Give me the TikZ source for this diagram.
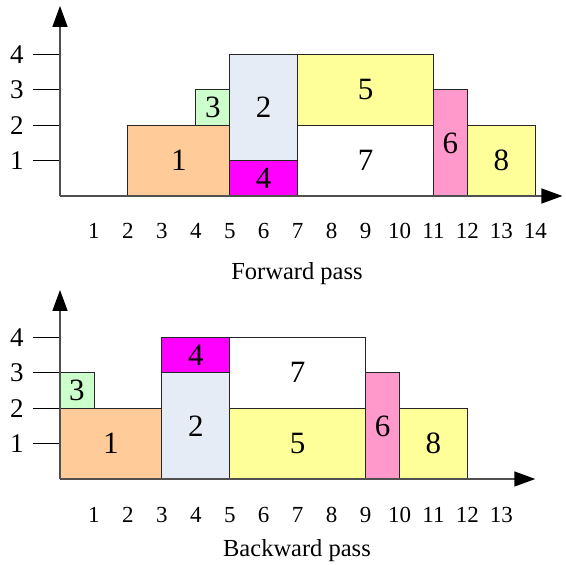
\documentclass[tikz,border=0pt]{standalone}
\usepackage{fontspec}
\setmainfont{Liberation Serif}
\usetikzlibrary{arrows.meta}

\definecolor{cOrange}{HTML}{FFCC99}
\definecolor{cGreen}{HTML}{CCFFCC}
\definecolor{cBlue}{HTML}{E6ECF5}
\definecolor{cMagenta}{HTML}{FF00FF}
\definecolor{cYellow}{HTML}{FFFF99}
\definecolor{cPink}{HTML}{FF99CC}
\definecolor{cAxis}{HTML}{505050}

\tikzset{
  axis/.style={draw=cAxis, line width=1.4pt,
    -{Triangle[length=21pt,width=15pt,color=black,fill=black]}},
  ytick/.style={draw=black, line width=0.9pt},
  task/.style={draw=black!85, line width=0.9pt},
  tasklabel/.style={font=\fontsize{31}{31}\selectfont, inner sep=0pt},
  xlab/.style={font=\fontsize{23}{23}\selectfont, inner sep=0pt},
  ylab/.style={font=\fontsize{27}{27}\selectfont, inner sep=0pt},
  caption/.style={font=\fontsize{24.5}{24.5}\selectfont, inner sep=0pt}
}

\begin{document}
\begin{tikzpicture}[x=1pt, y=1pt]
\useasboundingbox (0,0) rectangle (566,565);

% ---------- forward schedule ----------
\begin{scope}[shift={(60pt,369pt)}, x=33.95pt, y=35.4pt]
  % y ticks
  \foreach \k in {1,...,4} {
    \draw[ytick] (-0.8,\k) -- (0,\k);
    \node[ylab] (fy\k) at (-1.27,\k) {\k};
  }
  % tasks
  \draw[task, fill=cOrange]  (2,0) rectangle (5,2) node[tasklabel, midway] (f1) {1};
  \draw[task, fill=cGreen]   (4,2) rectangle (5,3) node[tasklabel, midway] (f3) {3};
  \draw[task, fill=cMagenta] (5,0) rectangle (7,1) node[tasklabel, midway] (f4) {4};
  \draw[task, fill=cBlue]    (5,1) rectangle (7,4) node[tasklabel, midway] (f2) {2};
  \draw[task, fill=white]    (7,0) rectangle (11,2) node[tasklabel, midway] (f7) {7};
  \draw[task, fill=cYellow]  (7,2) rectangle (11,4) node[tasklabel, midway] (f5) {5};
  \draw[task, fill=cPink]    (11,0) rectangle (12,3) node[tasklabel, midway] (f6) {6};
  \draw[task, fill=cYellow]  (12,0) rectangle (14,2) node[tasklabel, midway] (f8) {8};
  % axes
  \coordinate (fo) at (0,0);
  \coordinate (fxe) at (14.8,0);
  \coordinate (fye) at (0,5.37);
  \draw[axis] (fo) -- (fxe);
  \draw[axis] (fo) -- (fye);
  % x labels
  \foreach \k in {1,...,14}
    \node[xlab] (fx\k) at (\k,-0.99) {\k};
  \node[caption] (fcap) at (6.98,-2.18) {Forward pass};
\end{scope}

% ---------- backward schedule ----------
\begin{scope}[shift={(60pt,86pt)}, x=33.95pt, y=35.4pt]
  \foreach \k in {1,...,4} {
    \draw[ytick] (-0.8,\k) -- (0,\k);
    \node[ylab] (by\k) at (-1.27,\k) {\k};
  }
  \draw[task, fill=cOrange]  (0,0) rectangle (3,2) node[tasklabel, midway] (b1) {1};
  \draw[task, fill=cGreen]   (0,2) rectangle (1,3) node[tasklabel, midway] (b3) {3};
  \draw[task, fill=cBlue]    (3,0) rectangle (5,3) node[tasklabel, midway] (b2) {2};
  \draw[task, fill=cMagenta] (3,3) rectangle (5,4) node[tasklabel, midway] (b4) {4};
  \draw[task, fill=cYellow]  (5,0) rectangle (9,2) node[tasklabel, midway] (b5) {5};
  \draw[task, fill=white]    (5,2) rectangle (9,4) node[tasklabel, midway] (b7) {7};
  \draw[task, fill=cPink]    (9,0) rectangle (10,3) node[tasklabel, midway] (b6) {6};
  \draw[task, fill=cYellow]  (10,0) rectangle (12,2) node[tasklabel, midway] (b8) {8};
  \coordinate (bo) at (0,0);
  \coordinate (bxe) at (14.0,0);
  \coordinate (bye) at (0,5.34);
  \draw[axis] (bo) -- (bxe);
  \draw[axis] (bo) -- (bye);
  \foreach \k in {1,...,13}
    \node[xlab] (bx\k) at (\k,-1.02) {\k};
  \node[caption] (bcap) at (6.98,-2.03) {Backward pass};
\end{scope}
\end{tikzpicture}
\end{document}
